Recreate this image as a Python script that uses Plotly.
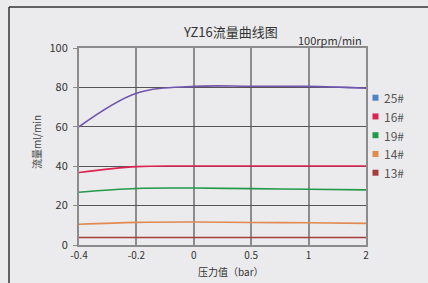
import plotly.graph_objects as go

categories = ["-0.4", "-0.2", "0", "0.5", "1", "2"]
series_names = ["25#", "16#", "19#", "14#", "13#"]
s25 = [60, 77, 80.5, 80.6, 80.5, 79.6]
s16 = [36.8, 39.8, 40.1, 40.1, 40.1, 40.1]
s19 = [26.8, 28.7, 28.9, 28.6, 28.3, 28.0]
s14 = [10.5, 11.5, 11.7, 11.4, 11.3, 11.0]
s13 = [3.8, 3.8, 3.8, 3.8, 3.8, 3.8]
line_colors = ["#7056ad", "#dc2451", "#23994a", "#e08a4f", "#a83d3d"]
legend_colors = ["#4e84c4", "#dc2451", "#23994a", "#e08a4f", "#a83d3d"]

FONT = "Noto Sans CJK SC"
BG = "#ebebed"
W, H = 428, 283
L, R, T, B = 79, 62, 48, 38
PW, PH = W - L - R, H - T - B


def px_x(p):
    return (p - L) / PW


def px_y(p):
    return (H - B - p) / PH


fig = go.Figure()
for name, ys, c in zip(series_names, [s25, s16, s19, s14, s13], line_colors):
    fig.add_trace(go.Scatter(x=categories, y=ys, mode="lines", name=name,
                             line=dict(color=c, width=1.6, shape="spline", smoothing=1.0),
                             showlegend=False, hoverinfo="skip"))


def note(text, x, y, size, color="#333", xanchor="center", angle=0):
    return dict(text=text, x=px_x(x), y=px_y(y), xref="paper", yref="paper",
                xanchor=xanchor, yanchor="middle", textangle=angle, showarrow=False,
                font=dict(size=size, color=color, family=FONT))


annotations = [
    note("YZ16流量曲线图", 230, 31, 13),
    note("100rpm/min", 364, 40.5, 11, xanchor="right"),
    note("流量ml/min", 36, 142, 10, color="#444", angle=-90),
    note("压力值（bar）", 231, 271, 10),
]
shapes = [
    dict(type="line", xref="paper", yref="paper", x0=px_x(9), x1=px_x(428), y0=px_y(7), y1=px_y(7),
         line=dict(color="#333", width=1.5)),
    dict(type="line", xref="paper", yref="paper", x0=px_x(9), x1=px_x(9), y0=px_y(7), y1=px_y(283),
         line=dict(color="#333", width=1.5)),
]
for i, (name, c) in enumerate(zip(series_names, legend_colors)):
    cy = 97.7 + i * 18.75
    shapes.append(dict(type="rect", xref="paper", yref="paper",
                       x0=px_x(372.5), x1=px_x(378.5), y0=px_y(cy + 3), y1=px_y(cy - 3),
                       fillcolor=c, line=dict(width=0)))
    annotations.append(note(name, 382, cy, 12, color="#555", xanchor="left"))

fig.update_layout(
    width=W, height=H,
    margin=dict(l=L, r=R, t=T, b=B, autoexpand=False),
    paper_bgcolor=BG, plot_bgcolor=BG,
    font=dict(family=FONT, color="#333"),
    showlegend=False,
    xaxis=dict(type="category", range=[0, 5], showgrid=True, gridcolor="#8c8c8c", gridwidth=2,
               showline=True, linecolor="#8c8c8c", linewidth=2, mirror=True,
               ticks="", tickfont=dict(size=10, color="#333"), zeroline=False),
    yaxis=dict(range=[0, 100], dtick=20, showgrid=True, gridcolor="#555", gridwidth=1.3,
               showline=True, linecolor="#8c8c8c", linewidth=2, mirror=True,
               ticks="outside", ticklen=4, tickcolor="#8c8c8c", ticklabelstandoff=3,
               tickfont=dict(size=11, color="#333"), zeroline=False),
    annotations=annotations,
    shapes=shapes,
)

fig.write_html(
    "out.html",
    config={"displayModeBar": False},
    post_script="document.body.style.margin='0';document.body.style.overflow='hidden';"
                "document.body.style.background='" + BG + "';",
)
